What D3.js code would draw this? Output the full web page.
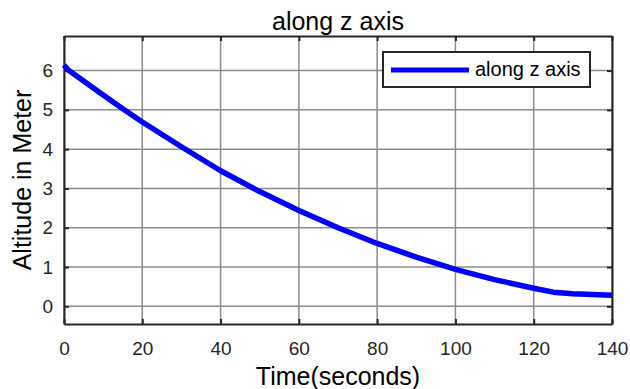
<!DOCTYPE html>
<html>
<head>
<meta charset="utf-8">
<script src="https://cdn.jsdelivr.net/npm/d3@7"></script>
<style>
  body { margin: 0; background: #fff; }
  svg { display: block; font-family: "Liberation Sans", Arial, sans-serif; }
</style>
</head>
<body>
<div id="container"></div>
<script>
// data
const time = [0, 1, 10, 15, 20, 30, 40, 50, 60, 70, 80, 90, 100, 110, 120, 125, 130, 135, 140];
const altitude = [6.14, 6.02, 5.38, 5.03, 4.69, 4.06, 3.45, 2.92, 2.44, 2.0, 1.6, 1.25, 0.94, 0.68, 0.46, 0.36, 0.32, 0.30, 0.28];
const xTicks = [0, 20, 40, 60, 80, 100, 120, 140];
const yTicks = [0, 1, 2, 3, 4, 5, 6];
const seriesName = "along z axis";

const width = 630, height = 389;
const margin = { top: 36, right: 18, bottom: 65, left: 64 };
const axisColor = "#262626";

const svg = d3.select("#container").append("svg")
    .attr("width", width)
    .attr("height", height);

const x = d3.scaleLinear().domain([0, 140]).range([margin.left, width - margin.right]);
const y = d3.scaleLinear().domain([-0.45, 6.88]).range([height - margin.bottom, margin.top]);

// grid
svg.append("g")
    .selectAll("line.vgrid")
    .data(xTicks)
    .enter()
    .append("line")
    .attr("x1", d => x(d)).attr("x2", d => x(d))
    .attr("y1", y.range()[1]).attr("y2", y.range()[0])
    .attr("stroke", "#8c8c8c")
    .attr("stroke-width", 1.5);

svg.append("g")
    .selectAll("line.hgrid")
    .data(yTicks)
    .enter()
    .append("line")
    .attr("x1", x.range()[0]).attr("x2", x.range()[1])
    .attr("y1", d => y(d)).attr("y2", d => y(d))
    .attr("stroke", "#8c8c8c")
    .attr("stroke-width", 1.5);

// axes, ticks pointing inward
const xAxis = svg.append("g")
    .attr("transform", `translate(0,${y.range()[0]})`)
    .call(d3.axisBottom(x).tickValues(xTicks).tickSizeInner(-5).tickSizeOuter(0).tickPadding(18));
const xTop = svg.append("g")
    .attr("transform", `translate(0,${y.range()[1]})`)
    .call(d3.axisTop(x).tickValues(xTicks).tickSizeInner(-5).tickSizeOuter(0).tickFormat(""));
const yAxis = svg.append("g")
    .attr("transform", `translate(${x.range()[0]},0)`)
    .call(d3.axisLeft(y).tickValues(yTicks).tickSizeInner(-5).tickSizeOuter(0).tickPadding(11));
const yRight = svg.append("g")
    .attr("transform", `translate(${x.range()[1]},0)`)
    .call(d3.axisRight(y).tickValues(yTicks).tickSizeInner(-5).tickSizeOuter(0).tickFormat(""));

[xAxis, xTop, yAxis, yRight].forEach(a => {
    a.select(".domain").attr("stroke", axisColor).attr("stroke-width", 2);
    a.selectAll(".tick line").attr("stroke", axisColor).attr("stroke-width", 2);
    a.selectAll(".tick text")
        .attr("fill", axisColor)
        .style("font-family", "Liberation Sans, Arial, sans-serif")
        .style("font-size", "19px");
});

// the curve
const line = d3.line()
    .x((d, i) => x(time[i]))
    .y(d => y(d));

svg.append("path")
    .datum(altitude)
    .attr("d", line)
    .attr("fill", "none")
    .attr("stroke", "#0000ff")
    .attr("stroke-width", 5.5)
    .attr("stroke-linejoin", "round");

// title and labels
svg.append("text")
    .text(seriesName)
    .attr("x", (x.range()[0] + x.range()[1]) / 2)
    .attr("y", 30)
    .attr("text-anchor", "middle")
    .attr("fill", "#000")
    .style("font-size", "25px");

svg.append("text")
    .text("Time(seconds)")
    .attr("x", (x.range()[0] + x.range()[1]) / 2)
    .attr("y", 385)
    .attr("text-anchor", "middle")
    .attr("fill", "#000")
    .style("font-size", "25px");

svg.append("text")
    .text("Altitude in Meter")
    .attr("transform", `translate(31,${(y.range()[0] + y.range()[1]) / 2}) rotate(-90)`)
    .attr("text-anchor", "middle")
    .attr("fill", "#000")
    .style("font-size", "25px");

// legend
const legend = svg.append("g").attr("transform", "translate(383,52)");
legend.append("rect")
    .attr("width", 207).attr("height", 35)
    .attr("fill", "#fff")
    .attr("stroke", axisColor)
    .attr("stroke-width", 2);
legend.append("line")
    .attr("x1", 8).attr("x2", 86)
    .attr("y1", 18).attr("y2", 18)
    .attr("stroke", "#0000ff")
    .attr("stroke-width", 5);
legend.append("text")
    .text(seriesName)
    .attr("x", 92)
    .attr("y", 24)
    .attr("fill", "#000")
    .style("font-size", "20px");
</script>
</body>
</html>
